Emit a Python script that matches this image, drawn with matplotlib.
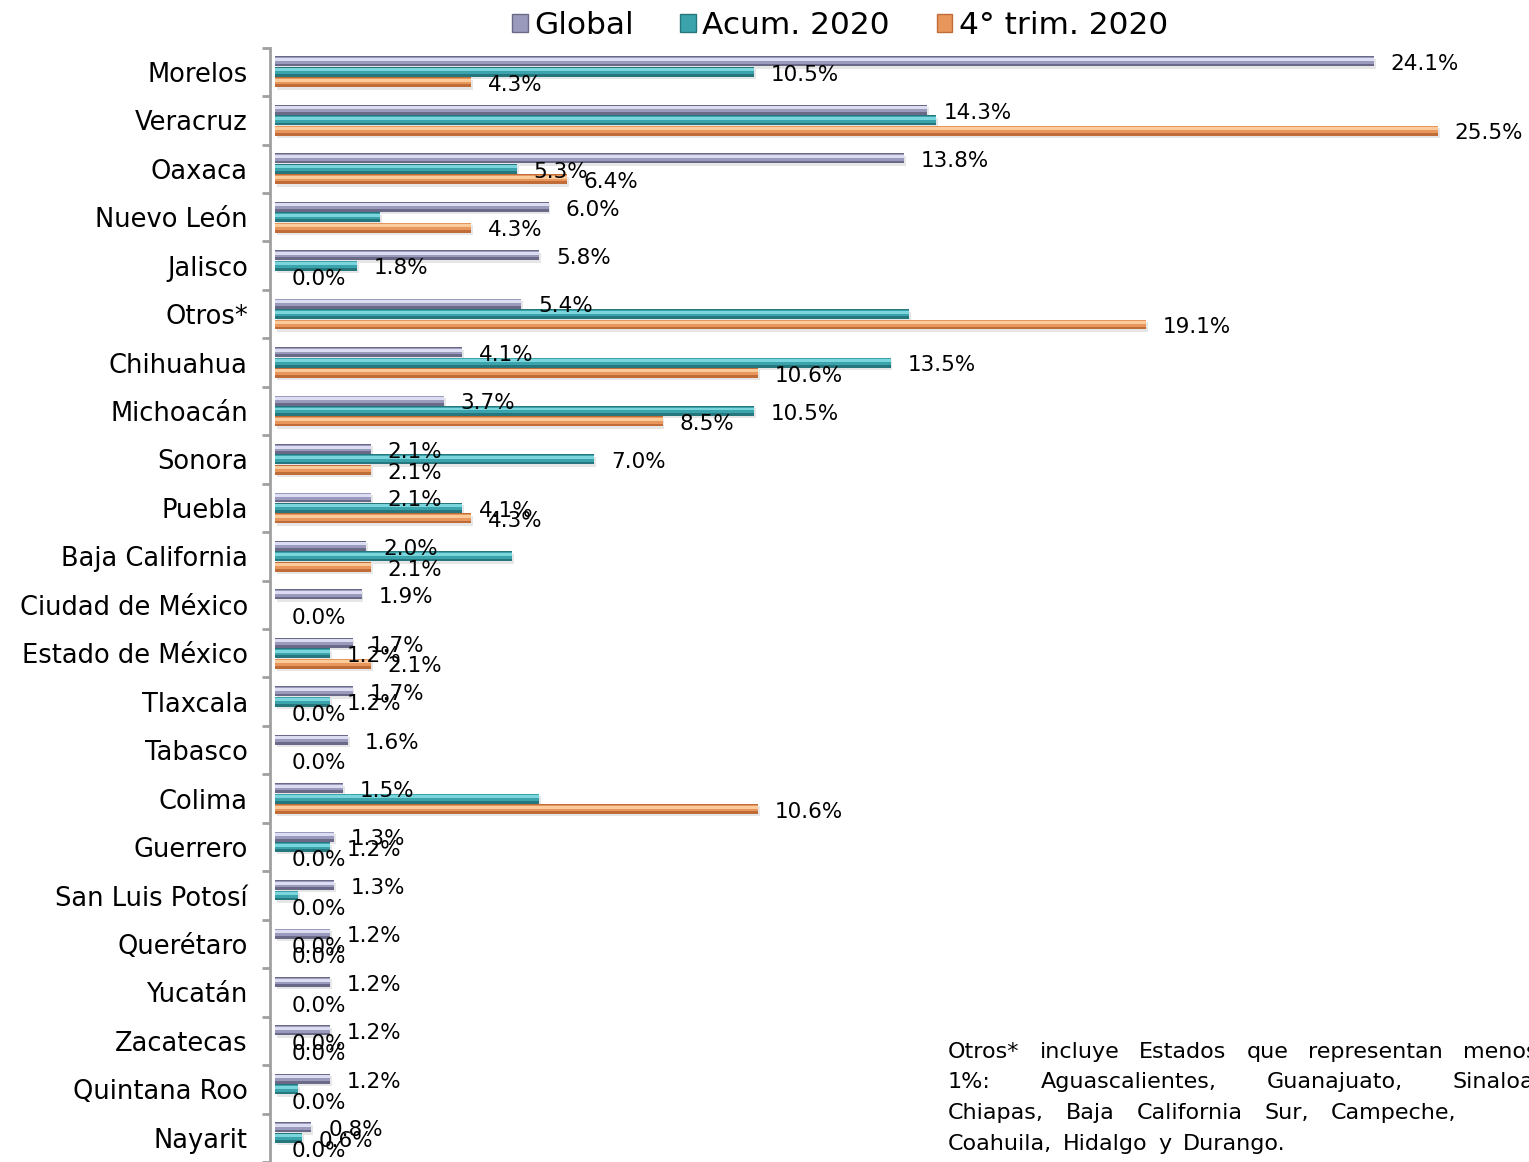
import matplotlib.pyplot as plt
import numpy as np
from matplotlib.patches import Patch

# Categories (top to bottom)
estados = ['Morelos', 'Veracruz', 'Oaxaca', 'Nuevo León', 'Jalisco', 'Otros*',
           'Chihuahua', 'Michoacán', 'Sonora', 'Puebla', 'Baja California',
           'Ciudad de México', 'Estado de México', 'Tlaxcala', 'Tabasco', 'Colima',
           'Guerrero', 'San Luis Potosí', 'Querétaro', 'Yucatán', 'Zacatecas',
           'Quintana Roo', 'Nayarit']

# Series values (%)
global_vals = [24.1, 14.3, 13.8, 6.0, 5.8, 5.4, 4.1, 3.7, 2.1, 2.1, 2.0, 1.9,
               1.7, 1.7, 1.6, 1.5, 1.3, 1.3, 1.2, 1.2, 1.2, 1.2, 0.8]
acum_vals = [10.5, 14.5, 5.3, 2.3, 1.8, 13.9, 13.5, 10.5, 7.0, 4.1, 5.2, 0.0,
             1.2, 1.2, 0.0, 5.8, 1.2, 0.5, 0.0, 0.0, 0.0, 0.5, 0.6]
trim_vals = [4.3, 25.5, 6.4, 4.3, 0.0, 19.1, 10.6, 8.5, 2.1, 4.3, 2.1, 0.0,
             2.1, 0.0, 0.0, 10.6, 0.0, 0.0, 0.0, 0.0, 0.0, 0.0, 0.0]

# which acum labels are visible in the original chart
acum_shown = [True, False, True, False, True, False, True, True, True, True, False, False,
              True, True, False, False, True, False, True, False, True, False, True]

series = [
    ('Global', global_vals, [True] * len(estados), '#9a9abc', '#dcdcf2', '#6a6a88'),
    ('Acum. 2020', acum_vals, acum_shown, '#3aa3ab', '#7ad6dc', '#26777d'),
    ('4° trim. 2020', trim_vals, [True] * len(estados), '#e9965c', '#fccb9c', '#bf6c38'),
]

nota = [
    ['Otros*', 'incluye', 'Estados', 'que', 'representan', 'menos', 'del'],
    ['1%:', 'Aguascalientes,', 'Guanajuato,', 'Sinaloa,'],
    ['Chiapas,', 'Baja', 'California', 'Sur,', 'Campeche,'],
    ['Coahuila,', 'Hidalgo', 'y', 'Durango.'],
]
nota_gap = [20, 50, 22, 11]  # word spacing per line (justified text)

W, H = 1529, 1162
fig = plt.figure(figsize=(W / 100, H / 100), dpi=100)
ax = fig.add_axes([270 / W, 0, (W - 270) / W, (H - 47.6) / H])

y = np.arange(len(estados))
h = 0.205
step = 0.215

for i, (name, vals, shown, mid, light, dark) in enumerate(series):
    yy = y + (i - 1) * step
    vals = np.array(vals)
    # soft shadow
    ax.barh(yy + 0.05, vals, left=0.04, height=h, color='#b8b8b8', alpha=0.35, zorder=1)
    # tube-like shading
    ax.barh(yy, vals, height=h, color=dark, zorder=2)
    ax.barh(yy - h * 0.1, vals, height=h * 0.65, color=mid, zorder=3)
    ax.barh(yy - h * 0.2, vals, height=h * 0.3, color=light, zorder=4)
    for k, v in enumerate(vals):
        if shown[k]:
            ax.annotate(f'{v:.1f}%', (v, yy[k]), xytext=(12, -2),
                        textcoords='offset points', va='center', ha='left',
                        fontsize=15.5, color='black', zorder=6)

ax.set_xlim(-0.11, 27.5)
ax.set_ylim(22.38, -0.5)

ax.set_yticks(y)
ax.set_yticklabels(estados, fontsize=18.5)
ax.set_yticks(np.arange(-0.5, len(estados), 1), minor=True)
ax.tick_params(axis='y', which='major', length=0, pad=16)
ax.tick_params(axis='y', which='minor', length=6, width=2, color='#a0a0a0')
ax.set_xticks([])

for s in ['top', 'right', 'bottom']:
    ax.spines[s].set_visible(False)
ax.spines['left'].set_color('#a0a0a0')
ax.spines['left'].set_linewidth(2)

handles = [Patch(facecolor=s[3], edgecolor=s[5], label=s[0]) for s in series]
fig.legend(handles=handles, loc='upper center', bbox_to_anchor=(840 / W, 1.015), ncol=3,
           frameon=False, fontsize=22.5, handlelength=0.5, handleheight=0.5,
           handletextpad=0.2, columnspacing=1.5)

# justified note, words placed one after another
renderer = fig.canvas.get_renderer()
for row, (words, gap) in enumerate(zip(nota, nota_gap)):
    xp = 948
    for wd in words:
        t = fig.text(xp / W, 1 - (1052 + row * 30.5) / H, wd, fontsize=16,
                     va='center', ha='left')
        xp += t.get_window_extent(renderer).width + gap

fig.savefig('out.png', dpi=100)
